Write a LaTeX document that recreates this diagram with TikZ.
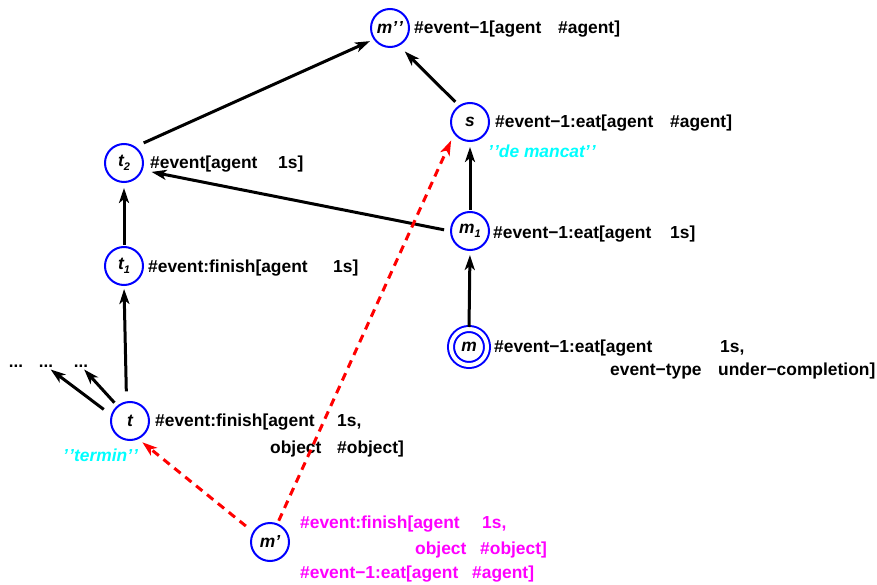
\documentclass[tikz,border=0pt]{standalone}
\usepackage{fontspec}
\setmainfont{Liberation Sans}
\usetikzlibrary{arrows.meta}
\definecolor{ringblue}{RGB}{0,0,255}
\definecolor{notecyan}{RGB}{0,255,255}
\definecolor{featmagenta}{RGB}{255,0,255}
\definecolor{linkred}{RGB}{255,0,0}
\newcommand\lowidx[1]{\raisebox{-4pt}{\fontsize{11}{12}\selectfont #1}}
\newcommand\qq{’\kern1pt’}
\begin{document}
\begin{tikzpicture}[x=1pt,y=-1pt,
  state/.style={circle,draw=ringblue,line width=2pt,minimum size=38pt,inner sep=0pt,
    font=\fontsize{17.4}{20}\selectfont\bfseries\itshape},
  final/.style={state,minimum size=36pt,double=white,double distance=4pt},
  lbl/.style={anchor=base west,inner sep=0pt,font=\fontsize{17.4}{20}\selectfont\bfseries},
  note/.style={lbl,text=notecyan,font=\fontsize{17.4}{20}\selectfont\bfseries\itshape},
  feat/.style={lbl,text=featmagenta},
  dots/.style={inner sep=2pt,font=\fontsize{17}{18}\selectfont\bfseries},
  arr/.style={-{Stealth[length=15pt,width=10pt,inset=4pt]},line width=3pt},
  redarr/.style={arr,draw=linkred,dash pattern=on 8pt off 6pt}]
\useasboundingbox (0,0) rectangle (877,585);

% states
\node[state] (mpp) at (390,28) {m\qq};
\node[state] (s) at (470,122) {s};
\node[state] (t2) at (124,163) {t\lowidx{2}};
\node[state] (m1) at (470,231) {m\lowidx{1}};
\node[state] (t1) at (124,266) {t\lowidx{1}};
\node[final] (m) at (469,347) {m};
\node[state] (t) at (130,421) {t};
\node[state] (mp) at (270,542) {m’};

% open continuations
\node[dots] (d1) at (16,366) {...};
\node[dots] (d2) at (46,366) {...};
\node[dots] (d3) at (81,366) {...};

% feature structures
\node[lbl] (mppA) at (414,34) {\#event−1[agent};
\node[lbl] (mppB) at (558,34) {\#agent]};
\node[lbl] (sA) at (495,128) {\#event−1:eat[agent};
\node[lbl] (sB) at (670,128) {\#agent]};
\node[note] (sN) at (488,158) {\qq de mancat\qq};
\node[lbl] (t2A) at (150,169) {\#event[agent};
\node[lbl] (t2B) at (278,169) {1s]};
\node[lbl] (m1A) at (493,238) {\#event−1:eat[agent};
\node[lbl] (m1B) at (670,238) {1s]};
\node[lbl] (t1A) at (148,272) {\#event:finish[agent};
\node[lbl] (t1B) at (333,272) {1s]};
\node[lbl] (mA) at (494,352) {\#event−1:eat[agent};
\node[lbl] (mB) at (720,352) {1s,};
\node[lbl] (mC) at (610,375) {event−type};
\node[lbl] (mD) at (718,375) {under−completion]};
\node[lbl] (tA) at (155,426) {\#event:finish[agent};
\node[lbl] (tB) at (337,426) {1s,};
\node[lbl] (tC) at (270,453) {object};
\node[lbl] (tD) at (337,453) {\#object]};
\node[note] (tN) at (63,461) {\qq termin\qq};
\node[feat] (mpA) at (300,528) {\#event:finish[agent};
\node[feat] (mpB) at (482,528) {1s,};
\node[feat] (mpC) at (415,554) {object};
\node[feat] (mpD) at (480,554) {\#object]};
\node[feat] (mpE) at (300,578) {\#event−1:eat[agent};
\node[feat] (mpF) at (472,578) {\#agent]};

% transitions
\draw[arr,shorten <=9pt,shorten >=4pt] (t2.55) -- (mpp.215);
\draw[arr,shorten <=5pt,shorten >=8pt] (s.124) -- (mpp.297);
\draw[arr,shorten <=1pt,shorten >=5pt] (m1.north) -- (s.south);
\draw[arr,shorten <=1pt,shorten >=4pt] (m.north) -- (m1.south);
\draw[arr,shorten <=6pt,shorten >=9pt] (m1.west) -- (t2.339);
\draw[arr,shorten <=1pt,shorten >=5pt] (t1.north) -- (t2.south);
\draw[arr,shorten <=10pt,shorten >=3pt] (t.100) -- (t1.south);
\draw[arr,shorten <=9pt] (t.162) -- (d2);
\draw[arr,shorten <=4pt] (t.130) -- (d3);

% links from m'
\draw[redarr,shorten <=9pt,shorten >=5pt] (mp.149) -- (t.295);
\draw[redarr,shorten <=3pt,shorten >=7pt] (mp.68) -- (s.217);
\end{tikzpicture}
\end{document}
